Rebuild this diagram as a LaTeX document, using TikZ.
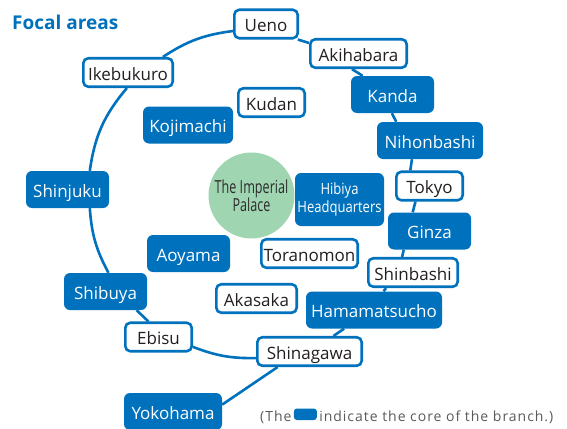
\documentclass[tikz,border=0pt]{standalone}
\usepackage{fontspec}
\setmainfont{Open Sans}
\newfontfamily\palacefont[FakeStretch=0.70]{Open Sans}
\newfontfamily\hqfont[FakeStretch=0.84]{Open Sans}
\newfontfamily\notefont[LetterSpace=7]{Open Sans}
\usepackage{tikz}
\usetikzlibrary{positioning,backgrounds}
\definecolor{tmblue}{RGB}{0,113,188}
\definecolor{palacegreen}{RGB}{160,213,178}
\definecolor{palacetext}{RGB}{45,45,45}
\definecolor{stoptext}{RGB}{35,31,32}
\definecolor{notegray}{RGB}{90,90,90}
\tikzset{
  every node/.style={
    font=\fontsize{17}{20}\selectfont
  },
  ringline/.style={
    draw=tmblue,
    line width=2.6pt
  },
  ringstop/.style={
    shape=rectangle,
    rounded corners=5pt,
    draw=tmblue,
    line width=2.6pt,
    fill=white,
    text=stoptext,
    minimum width={#1pt-2.6pt},
    minimum height=28.5pt,
    inner sep=0pt,
    text height=15pt,
    text depth=0pt
  },
  corestop/.style={
    shape=rectangle,
    rounded corners=6pt,
    fill=tmblue,
    text=white,
    minimum width=#1pt,
    minimum height=37pt,
    inner sep=0pt,
    text height=15pt,
    text depth=0pt
  },
  hqbox/.style={
    shape=rectangle,
    rounded corners=6pt,
    fill=tmblue,
    text=white,
    minimum width=89pt,
    minimum height=53pt,
    inner sep=0pt,
    align=center,
    font=\hqfont\fontsize{15.5}{17.5}\selectfont
  },
  palace/.style={
    shape=circle,
    fill=palacegreen,
    minimum size=86pt,
    inner sep=0pt,
    text=palacetext,
    align=center,
    font=\palacefont\fontsize{18}{18}\selectfont
  },
  heading/.style={
    text=tmblue,
    inner sep=0pt,
    font=\bfseries\fontsize{19}{22}\selectfont
  },
  notetext/.style={
    text=notegray,
    inner sep=0pt,
    font=\notefont\fontsize{14}{16}\selectfont
  },
  keybox/.style={
    shape=rectangle,
    rounded corners=3pt,
    fill=tmblue,
    minimum width=23pt,
    minimum height=11.5pt,
    inner sep=0pt
  }
}

\begin{document}
\begin{tikzpicture}[x=1pt,y=1pt]
\useasboundingbox (0,0) rectangle (567,-428);

\node [heading, anchor=base west] (title) at (12,-30) {Focal areas};

\node [palace] (palace) at (251.5,-195.5) {The Imperial\\Palace};
\node [hqbox] (hibiya) at (339.5,-199.5) {Hibiya\\Headquarters};

\node [ringstop=66] (ueno) at (266,-24) {Ueno};
\node [ringstop=99] (akihabara) at (358.5,-53.5) {Akihabara};
\node [ringstop=92] (ikebukuro) at (128,-72.5) {Ikebukuro};
\node [ringstop=69] (kudan) at (271.5,-102.5) {Kudan};
\node [ringstop=69] (tokyo) at (429.5,-186) {Tokyo};
\node [ringstop=99] (toranomon) at (309.5,-253.5) {Toranomon};
\node [ringstop=83] (akasaka) at (256.5,-298.5) {Akasaka};
\node [ringstop=92] (shinbashi) at (413,-272.5) {Shinbashi};
\node [ringstop=69] (ebisu) at (158.5,-337) {Ebisu};
\node [ringstop=107] (shinagawa) at (309.5,-351.5) {Shinagawa};

\node [corestop=83] (kanda) at (392.5,-94.5) {Kanda};
\node [corestop=106] (nihonbashi) at (430,-140.5) {Nihonbashi};
\node [corestop=83] (ginza) at (429.5,-231) {Ginza};
\node [corestop=136] (hamamatsucho) at (374,-310) {Hamamatsucho};
\node [corestop=90] (kojimachi) at (188,-125) {Kojimachi};
\node [corestop=83] (shinjuku) at (67.5,-189.5) {Shinjuku};
\node [corestop=83] (aoyama) at (188.5,-253.5) {Aoyama};
\node [corestop=83] (shibuya) at (105.5,-291.5) {Shibuya};
\node [corestop=98] (yokohama) at (173,-411.5) {Yokohama};

\begin{scope}[on background layer]
\draw [ringline] (ueno.192) to[bend right=13] (ikebukuro.24);
\draw [ringline] (ikebukuro.266) to[bend right=16] (shinjuku.40);
\draw [ringline] (shinjuku.320) to[bend right=12] (shibuya.81);
\draw [ringline] (shibuya.329) -- (ebisu.123);
\draw [ringline] (ebisu.344) to[bend right=11] (shinagawa.187);
\draw [ringline] (shinagawa.33) -- (hamamatsucho.212);
\draw [ringline] (hamamatsucho.63) -- (shinbashi.210);
\draw [ringline] (shinbashi.125) -- (ginza.216);
\draw [ringline] (ginza.132) -- (tokyo.228);
\draw [ringline] (tokyo.141) -- (nihonbashi.226);
\draw [ringline] (nihonbashi.151) -- (kanda.268);
\draw [ringline] (kanda.148) -- (akihabara.247);
\draw [ringline] (akihabara.168) -- (ueno.334);
\draw [ringline] (shinagawa.206) -- (yokohama.8);
\end{scope}

\node [notetext, anchor=base west] (notehead) at (260,-421) {(The};
\node [keybox, right=2pt of notehead, yshift=2.5pt] (key) {};
\node [notetext, anchor=base west] (notetail) at ([xshift=2pt]key.east |- notehead.base) {indicate the core of the branch.)};

\end{tikzpicture}
\end{document}
